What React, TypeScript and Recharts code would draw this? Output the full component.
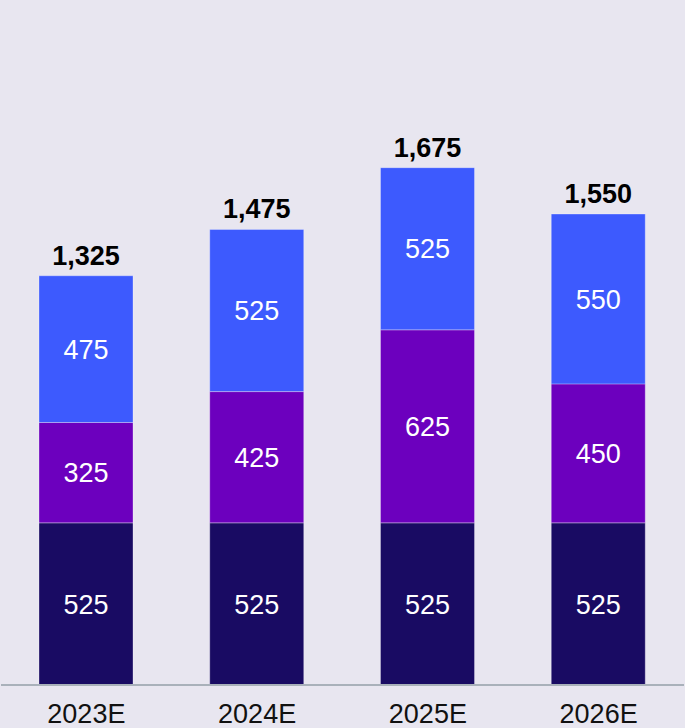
import React from 'react';
import { BarChart, Bar, XAxis, YAxis, LabelList } from 'recharts';

const categories = ['2023E', '2024E', '2025E', '2026E'];
const baseValues = [525, 525, 525, 525];
const midValues = [325, 425, 625, 450];
const topValues = [475, 525, 525, 550];
const totals = [1325, 1475, 1675, 1550];

const data = categories.map((c, i) => ({
  name: c,
  base: baseValues[i],
  mid: midValues[i],
  top: topValues[i],
  total: totals[i],
}));

const FONT = '"Liberation Sans", Arial, Helvetica, sans-serif';

const Tick = (props: any) => {
  const { x, y, payload } = props;
  return (
    <text x={x} y={y + 38} textAnchor="middle" fontSize={27} fontFamily={FONT} fill="#111111">
      {payload.value}
    </text>
  );
};

export default function App() {
  return (
    <div style={{ position: 'absolute', left: 0, top: 0, width: 685, height: 728, background: '#E8E6F0' }}>
      <BarChart
        width={685}
        height={728}
        data={data}
        margin={{ top: 0, right: 1, bottom: 0, left: 1 }}
      >
        <XAxis
          dataKey="name"
          height={43}
          tickLine={false}
          tickSize={0}
          tickMargin={0}
          axisLine={{ stroke: '#A9B1BA', strokeWidth: 2 }}
          tick={<Tick />}
          interval={0}
        />
        <YAxis hide domain={[0, 2218]} />
        <Bar dataKey="base" stackId="a" fill="#190B63" barSize={94} stroke="#ffffff" strokeOpacity={0.3} strokeWidth={1} isAnimationActive={false}>
          <LabelList dataKey="base" position="center" fill="#ffffff" fontSize={27} fontFamily={FONT} />
        </Bar>
        <Bar dataKey="mid" stackId="a" fill="#6C00BE" barSize={94} stroke="#ffffff" strokeOpacity={0.3} strokeWidth={1} isAnimationActive={false}>
          <LabelList dataKey="mid" position="center" fill="#ffffff" fontSize={27} fontFamily={FONT} />
        </Bar>
        <Bar dataKey="top" stackId="a" fill="#3D5AFE" barSize={94} stroke="#ffffff" strokeOpacity={0.3} strokeWidth={1} isAnimationActive={false}>
          <LabelList dataKey="top" position="center" fill="#ffffff" fontSize={27} fontFamily={FONT} />
          <LabelList
            dataKey="total"
            position="top"
            offset={11}
            fill="#000000"
            fontSize={27}
            fontWeight="bold"
            fontFamily={FONT}
            formatter={(v: any) => Number(v).toLocaleString('en-US')}
          />
        </Bar>
      </BarChart>
    </div>
  );
}
